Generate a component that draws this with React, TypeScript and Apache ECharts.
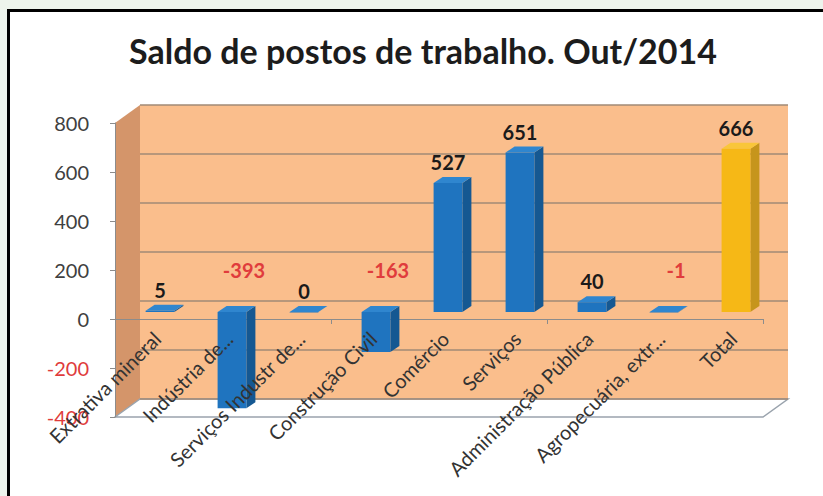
import React, { useEffect, useRef } from "react";
import * as echarts from "echarts";

const titleText = "Saldo de postos de trabalho. Out/2014";
const categories = [
  "Extrativa mineral",
  "Indústria de...",
  "Serviços Industr de...",
  "Construção Civil",
  "Comércio",
  "Serviços",
  "Administração Pública",
  "Agropecuária, extr...",
  "Total",
];
const values = [5, -393, 0, -163, 527, 651, 40, -1, 666];
const yMin = -400;
const yMax = 800;
const yInterval = 200;

const RED = "#E03C3C";

export default function App() {
  const ref = useRef<HTMLDivElement>(null);
  useEffect(() => {
    if (!ref.current) return;
    const chart = echarts.init(ref.current, undefined, { renderer: "svg" });

    const renderItem = (params: any, api: any) => {
      const i = api.value(0);
      const v = api.value(1);
      const p0 = api.coord([i, 0]);
      const pv = api.coord([i, v]);
      const band = api.size([1, 0])[0];
      const w = band * 0.4;
      const ox = 9, oy = -7, dx = 9, dy = -6;
      const cx = p0[0] + ox;
      const x1 = cx - w / 2;
      const x2 = cx + w / 2;
      const yTop = Math.min(p0[1], pv[1]) + oy;
      const yBot = Math.max(p0[1], pv[1]) + oy;
      const isTotal = categories[i] === "Total";
      const cFront = isTotal ? "#F6B816" : "#1F74BF";
      const cSide = isTotal ? "#C6951C" : "#155892";
      const cTop = isTotal ? "#F9C63A" : "#2F86CF";
      const neg = v < 0;
      const lx = cx + (neg ? 12 : 0);
      const ly = neg ? p0[1] - 49 : pv[1] - 28;
      return {
        type: "group",
        children: [
          {
            type: "polygon",
            shape: { points: [[x2, yTop], [x2 + dx, yTop + dy], [x2 + dx, yBot + dy], [x2, yBot]] },
            style: { fill: cSide },
          },
          {
            type: "polygon",
            shape: { points: [[x1, yTop], [x1 + dx, yTop + dy], [x2 + dx, yTop + dy], [x2, yTop]] },
            style: { fill: cTop },
          },
          {
            type: "rect",
            shape: { x: x1, y: yTop, width: w, height: Math.max(yBot - yTop, 0.5) },
            style: { fill: cFront },
          },
          {
            type: "text",
            style: {
              text: String(v),
              x: lx,
              y: ly,
              textAlign: "center",
              textVerticalAlign: "middle",
              fill: neg ? RED : "#1a1a1a",
              font: "bold 20px Lato",
            },
          },
        ],
      };
    };

    const option: any = {
      animation: false,
      textStyle: { fontFamily: "Lato" },
      title: {
        text: titleText,
        left: 418,
        top: 28,
        textAlign: "center",
        textStyle: { fontFamily: "Lato", fontWeight: "bold", fontSize: 34, color: "#1c1c1c" },
      },
      graphic: [
        {
          type: "rect",
          z: -10,
          shape: { x: 8.5, y: 10.5, width: 840, height: 520 },
          style: { fill: "#ffffff", stroke: "#000000", lineWidth: 3 },
        },
        {
          type: "rect",
          z: -6,
          shape: { x: 140, y: 105, width: 648, height: 294 },
          style: { fill: "#FABE8C" },
        },
        {
          type: "polygon",
          z: -5,
          shape: { points: [[115, 123], [140, 105], [140, 399], [115, 417]] },
          style: { fill: "#D4956A" },
        },
        {
          type: "polygon",
          z: -5,
          shape: { points: [[115, 417], [140, 399], [788, 399], [763, 417]] },
          style: { fill: "#ffffff", stroke: "#9aa3ad", lineWidth: 1.5 },
        },
      ],
      grid: [
        { left: 115, top: 123, width: 648, height: 294 },
        { left: 140, top: 105, width: 648, height: 294 },
        { left: 121, top: 100, width: 648, height: 219 },
      ],
      xAxis: [
        {
          type: "category",
          gridIndex: 0,
          data: categories,
          position: "bottom",
          z: 1,
          axisLine: { show: true, onZero: true, lineStyle: { color: "#8c8c8c", width: 1 } },
          axisTick: { show: true, length: 5, lineStyle: { color: "#8c8c8c" } },
          axisLabel: { show: false },
          splitLine: { show: false },
        },
        {
          type: "category",
          gridIndex: 1,
          data: categories,
          show: false,
        },
        {
          type: "category",
          gridIndex: 2,
          data: categories,
          position: "bottom",
          z: 20,
          axisLine: { show: false, onZero: false },
          axisTick: { show: false },
          axisLabel: {
            show: true,
            interval: 0,
            rotate: 45,
            margin: 16,
            fontSize: 20,
            color: "#333333",
            fontFamily: "Lato",
          },
          splitLine: { show: false },
        },
      ],
      yAxis: [
        {
          type: "value",
          gridIndex: 0,
          min: yMin,
          max: yMax,
          interval: yInterval,
          z: 1,
          axisLine: { show: true, lineStyle: { color: "#8c8c8c" } },
          axisTick: { show: true, length: 5, lineStyle: { color: "#8c8c8c" } },
          axisLabel: {
            margin: 26,
            fontSize: 20,
            fontFamily: "Lato",
            color: (val: any) => (Number(val) < 0 ? RED : "#404040"),
          },
          splitLine: { show: false },
        },
        {
          type: "value",
          gridIndex: 1,
          min: yMin,
          max: yMax,
          interval: yInterval,
          axisLine: { show: false },
          axisTick: { show: false },
          axisLabel: { show: false },
          splitLine: { show: true, lineStyle: { color: "#a08a76", width: 1.5 } },
        },
        {
          type: "value",
          gridIndex: 2,
          show: false,
          splitLine: { show: false },
        },
      ],
      series: [
        {
          type: "custom",
          xAxisIndex: 0,
          yAxisIndex: 0,
          z: 10,
          renderItem,
          encode: { x: 0, y: 1 },
          data: values.map((v, i) => [i, v]),
        },
      ],
    };
    chart.setOption(option);
    return () => chart.dispose();
  }, []);

  return (
    <div
      style={{
        position: "fixed",
        left: 0,
        top: 0,
        width: 823,
        height: 496,
        background: "#EDF4EC",
      }}
    >
      <div ref={ref} style={{ width: 823, height: 496 }} />
    </div>
  );
}
